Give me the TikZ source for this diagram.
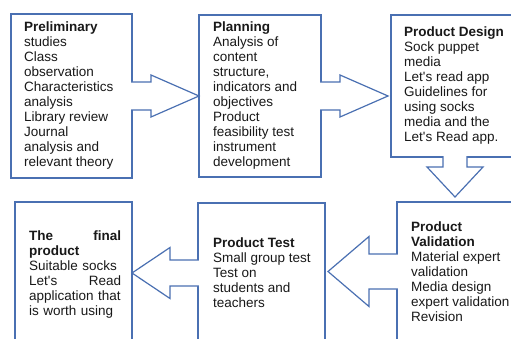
\documentclass[tikz,border=0pt]{standalone}
\usepackage{fontspec}
\setmainfont{Liberation Sans}
\usetikzlibrary{calc,positioning}
\definecolor{stageblue}{RGB}{74,112,178}
\definecolor{stageink}{RGB}{25,25,25}

\begin{document}
\begin{tikzpicture}[x=1pt, y=-1pt,
    stage/.style={draw=stageblue, line width=1.2pt, fill=white,
      outer sep=0pt, inner sep=0pt},
    stagetext/.style={align=left, inner sep=0pt, text=stageink,
      font=\fontsize{13.5}{15}\selectfont},
    opening/.style={fill=white},
    callout/.style={draw=stageblue, line width=1.2pt, line join=miter,
      preaction={fill=white}}]

  \useasboundingbox (0,0) rectangle (511,339);
  \clip (0,0) rectangle (511,339);
  \fill[white] (0,0) rectangle (511,339);

  % top row of stages
  \node[stage, minimum width=121pt, minimum height=164pt] (prelim) at (71.5,96) {};
  \node[stage, minimum width=122pt, minimum height=162pt] (plan) at (260,96) {};
  \node[stage, minimum width=128pt, minimum height=142pt] (design) at (455,86) {};
  % bottom row, running off the page
  \node[stage, minimum width=120pt, minimum height=139pt] (valid) at (457,271.5) {};
  \node[stage, minimum width=127pt, minimum height=140pt] (test) at (261.5,273) {};
  \node[stage, minimum width=117pt, minimum height=145pt] (final) at (73.5,274.5) {};

  \node[stagetext, right=13pt of prelim.west] (prelimtext)
    {\textbf{Preliminary}\\studies\\Class\\observation\\Characteristics\\analysis\\
     Library review\\Journal\\analysis and\\relevant theory};
  \node[stagetext, right=14pt of plan.west] (plantext)
    {\textbf{Planning}\\Analysis of\\content\\structure,\\indicators and\\objectives\\
     Product\\feasibility test\\instrument\\development};
  \node[stagetext, right=13pt of design.west] (designtext)
    {\textbf{Product Design}\\Sock puppet\\media\\Let\textquotesingle s read app\\
     Guidelines for\\using socks\\media and the\\Let\textquotesingle s Read app.};
  \node[stagetext, right=14pt of valid.west] (validtext)
    {\textbf{Product}\\\textbf{Validation}\\Material expert\\validation\\
     Media design\\expert validation\\Revision};
  \node[stagetext, right=15pt of test.west] (testtext)
    {\textbf{Product Test}\\Small group test\\Test on\\students and\\teachers};
  \node[stagetext, text width=92pt, right=14pt of final.west] (finaltext)
    {\textbf{The\hfill final}\\\textbf{product}\\Suitable socks\\
     Let\textquotesingle s\hfill Read\\application that\\is worth using};

  % open the borders where the arrows leave
  \fill[opening] ($(prelim.east)+(-1.5,-13.4)$) rectangle ($(prelim.east)+(1.5,13.4)$);
  \fill[opening] ($(plan.east)+(-1.5,-13.4)$) rectangle ($(plan.east)+(1.5,13.4)$);
  \fill[opening] ($(design.south)+(-11.4,-1.5)$) rectangle ($(design.south)+(11.4,1.5)$);
  \fill[opening] ($(valid.west)+(-1.5,-16.9)$) rectangle ($(valid.west)+(1.5,16.9)$);
  \fill[opening] ($(test.west)+(-1.5,-12.4)$) rectangle ($(test.west)+(1.5,12.4)$);

  % block arrows between the stages
  \draw[callout] ($(prelim.east)+(-0.7,-14)$) -| ($(prelim.east)+(19,-21)$)
    -- (plan.west) -- ($(prelim.east)+(19,21)$) |- ($(prelim.east)+(-0.7,14)$);
  \draw[callout] ($(plan.east)+(-0.7,-14)$) -| ($(plan.east)+(19,-21)$)
    -- ($(design.west |- plan.east)+(-3,0)$) -- ($(plan.east)+(19,21)$)
    |- ($(plan.east)+(-0.7,14)$);
  \draw[callout] ($(design.south)+(-12,-0.7)$) |- ($(design.south)+(-28,10)$)
    -- ($(design.south |- valid.north)+(0,-5)$) -- ($(design.south)+(28,10)$)
    -| ($(design.south)+(12,-0.7)$);
  \draw[callout] ($(valid.west)+(0.7,-17.5)$) -| ($(valid.west)+(-28,-35)$)
    -- ($(test.east |- valid.west)+(3,0)$) -- ($(valid.west)+(-28,35)$)
    |- ($(valid.west)+(0.7,17.5)$);
  \draw[callout] ($(test.west)+(0.7,-13)$) -| ($(test.west)+(-28,-25.5)$)
    -- (final.east |- test.west) -- ($(test.west)+(-28,25.5)$)
    |- ($(test.west)+(0.7,13)$);
\end{tikzpicture}
\end{document}
